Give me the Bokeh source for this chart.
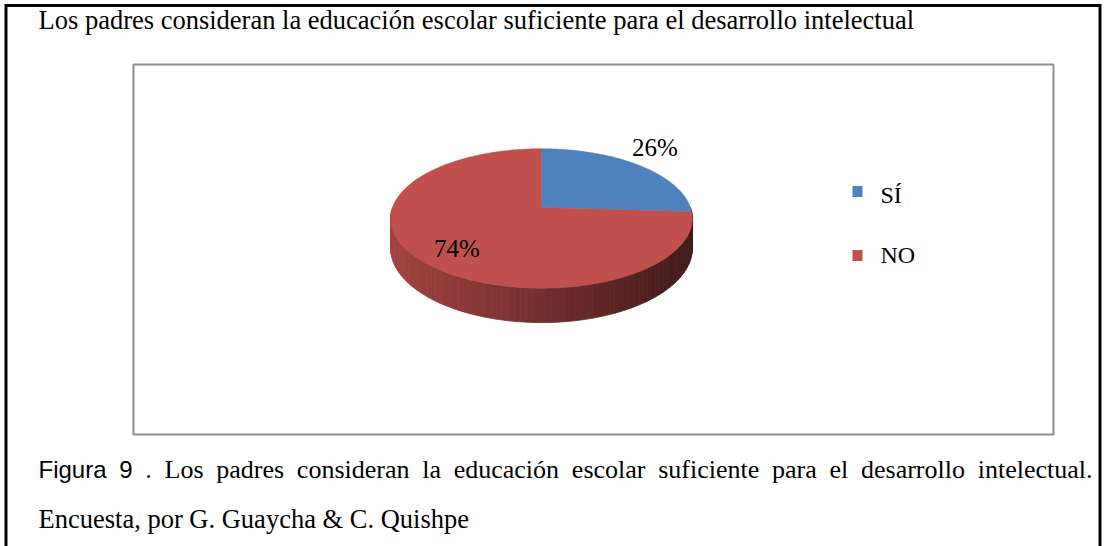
import numpy as np
from bokeh.plotting import figure
from bokeh.models import Range1d
from bokeh.core.properties import value
from bokeh.embed import file_html
from bokeh.resources import INLINE

# ---------------- data ----------------
chart_title = "Los padres consideran la educación escolar suficiente para el desarrollo intelectual"
categories = ["SÍ", "NO"]
percentages = [26, 74]
slice_colors = ["#4F81BD", "#C0504D"]
caption_words = ["Figura", "9", ".", "Los", "padres", "consideran", "la", "educación",
                 "escolar", "suficiente", "para", "el", "desarrollo", "intelectual."]
caption_sans_count = 2
caption_second_line = "Encuesta, por G. Guaycha & C. Quishpe"

# ---------------- page / figure ----------------
W, H = 1104, 546
OX, OY = 0, 0
TDY = -8.5  # baseline correction for svg text placement
SERIF = value("Liberation Serif")
SANS = value("Liberation Sans")

p = figure(width=W, height=H, x_range=Range1d(OX, OX + W), y_range=Range1d(OY + H, OY),
           output_backend="svg", toolbar_location=None, min_border=0,
           x_axis_location=None, y_axis_location=None,
           background_fill_color="white", border_fill_color="white")
p.grid.visible = False
p.outline_line_color = None

# outer black frame (left, top, right)
p.line(x=[5.5, 5.5, 1099.5, 1099.5], y=[600, 5, 5, 600],
       line_color="black", line_width=3, line_join="miter")

# inner chart box
p.quad(left=[133], right=[1053], top=[64], bottom=[434],
       fill_color=None, line_color="#8e8e8e", line_width=2)

# ---------------- 3D pie ----------------
cx, cy = 541.0, 207.0
rx, ry, persp, depth = 149.0, 68.0, 0.157, 29.0


def proj(theta, dz=0.0):
    f = 1.0 / (1.0 + persp * np.sin(theta))
    return cx + rx * np.cos(theta) * f, cy - ry * np.sin(theta) * f + dz * f


def hex_to_rgb(h):
    h = h.lstrip("#")
    return tuple(int(h[i:i + 2], 16) for i in (0, 2, 4))


fr = np.array(percentages, float) / float(sum(percentages))
ends = np.pi / 2 - 2 * np.pi * np.cumsum(fr)
starts = np.concatenate([[np.pi / 2], ends[:-1]])

# sides (front half only)
side_xs, side_ys, side_cols = [], [], []
for i in range(len(percentages)):
    a0 = min(starts[i], 0.0)
    a1 = max(ends[i], -np.pi)
    if a0 <= a1:
        continue
    n = max(2, int(np.ceil((a0 - a1) / (np.pi / 90))) + 1)
    ths = np.linspace(a0, a1, n)
    base = hex_to_rgb(slice_colors[i])
    for t0, t1 in zip(ths[:-1], ths[1:]):
        x0, y0 = proj(t0)
        x1, y1 = proj(t1)
        xb0, yb0 = proj(t0, depth)
        xb1, yb1 = proj(t1, depth)
        side_xs.append([x0, x1, xb1, xb0])
        side_ys.append([y0, y1, yb1, yb0])
        tt = (0.5 * (x0 + x1) - (cx - rx)) / (2 * rx)
        fac = 0.84 - 0.5 * min(max(tt, 0), 1)
        c = tuple(int(round(v * fac)) for v in base)
        side_cols.append("#%02x%02x%02x" % c)
p.patches(xs=side_xs, ys=side_ys, fill_color=side_cols, line_color=side_cols, line_width=0.8)

# top faces
top_xs, top_ys = [], []
for i in range(len(percentages)):
    ths = np.linspace(starts[i], ends[i], 200)
    ax, ay = proj(ths)
    top_xs.append([cx] + list(ax))
    top_ys.append([cy] + list(ay))
p.patches(xs=top_xs, ys=top_ys, fill_color=slice_colors, line_color=slice_colors, line_width=0.5)

# percentage labels
label_x = [654.5, 456.5]
label_y = [155 + TDY, 256 + TDY]
p.text(x=label_x, y=label_y, text=[f"{v}%" for v in percentages],
       text_font=SERIF, text_font_size="25px", text_align="center",
       text_baseline="alphabetic", text_color="black")

# legend
p.rect(x=[857, 857], y=[191, 255], width=10, height=11,
       fill_color=slice_colors, line_color=None)
p.text(x=[880, 880], y=[203 + TDY, 263 + TDY], text=categories, text_font=SERIF,
       text_font_size="24px", text_align="left", text_baseline="alphabetic",
       text_color="black")

# ---------------- texts ----------------
p.text(x=[38], y=[28 + TDY], text=[chart_title], text_font=SERIF, text_font_size="26.5px",
       text_align="left", text_baseline="alphabetic", text_color="black")

TIMES = {' ': 250, 'a': 444, 'b': 500, 'c': 444, 'd': 500, 'e': 444, 'f': 333, 'g': 500,
         'h': 500, 'i': 278, 'j': 278, 'k': 500, 'l': 278, 'm': 778, 'n': 500, 'o': 500,
         'p': 500, 'q': 500, 'r': 333, 's': 389, 't': 278, 'u': 500, 'v': 500, 'w': 722,
         'x': 500, 'y': 500, 'z': 444, 'ó': 500, '.': 250, ',': 250, 'L': 611, 'E': 611,
         'G': 722, 'C': 667, 'Q': 722, 'F': 556, '9': 500}
ARIAL = {'F': 611, 'i': 222, 'g': 556, 'u': 556, 'r': 333, 'a': 556, '9': 556}

sans_size = 24
serif_size = 26
widths = []
for j, w in enumerate(caption_words):
    if j < caption_sans_count:
        widths.append(sum(ARIAL.get(ch, 556) for ch in w) / 1000.0 * sans_size)
    else:
        widths.append(sum(TIMES.get(ch, 500) for ch in w) / 1000.0 * serif_size)
x_left, x_right = 38.0, 1092.0
gap = (x_right - x_left - sum(widths)) / (len(caption_words) - 1)
xs = []
cur = x_left
for wd in widths:
    xs.append(cur)
    cur += wd + gap

p.text(x=xs[:caption_sans_count], y=[477 + TDY] * caption_sans_count,
       text=caption_words[:caption_sans_count], text_font=SANS,
       text_font_size=f"{sans_size}px", text_align="left", text_baseline="alphabetic",
       text_color="black")
p.text(x=xs[caption_sans_count:], y=[477 + TDY] * (len(caption_words) - caption_sans_count),
       text=caption_words[caption_sans_count:], text_font=SERIF,
       text_font_size=f"{serif_size}px", text_align="left", text_baseline="alphabetic",
       text_color="black")

p.text(x=[38], y=[527 + TDY], text=[caption_second_line], text_font=SERIF, text_font_size="26.5px",
       text_align="left", text_baseline="alphabetic", text_color="black")

open("out.html", "w").write(file_html(p, INLINE))
